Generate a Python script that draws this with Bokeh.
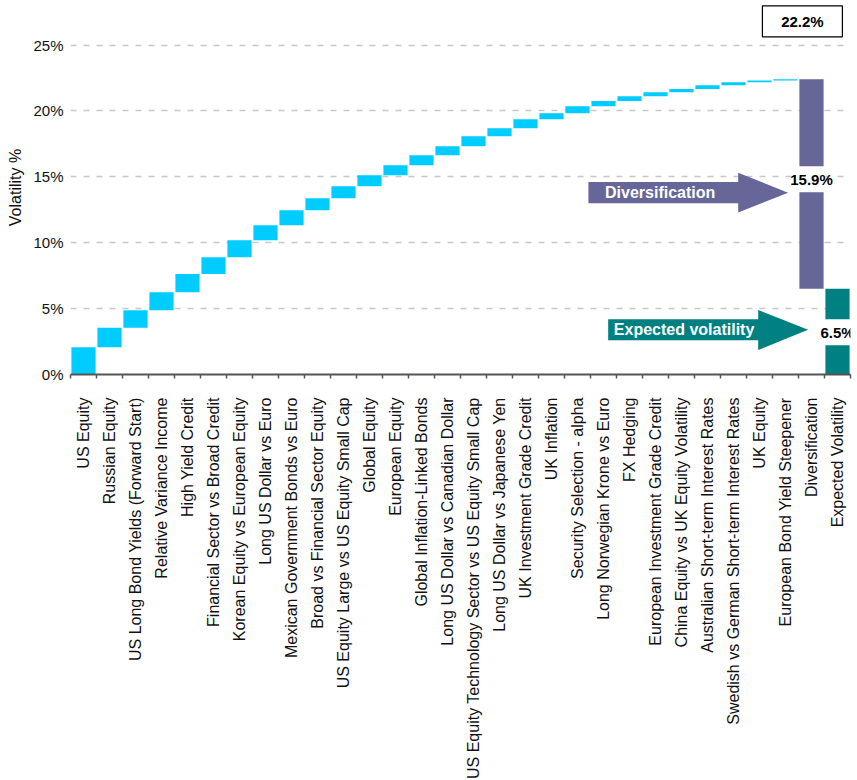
from bokeh.plotting import figure
from bokeh.models import (Range1d, FixedTicker, CustomJSTickFormatter, PrintfTickFormatter,
                          Label, ColumnDataSource)
from bokeh.embed import file_html
from bokeh.resources import INLINE

categories = [
    "US Equity", "Russian Equity", "US Long Bond Yields (Forward Start)",
    "Relative Variance Income", "High Yield Credit", "Financial Sector vs Broad Credit",
    "Korean Equity vs European Equity", "Long US Dollar vs Euro",
    "Mexican Government Bonds vs Euro", "Broad vs Financial Sector Equity",
    "US Equity Large vs US Equity Small Cap", "Global Equity", "European Equity",
    "Global Inflation-Linked Bonds", "Long US Dollar vs Canadian Dollar",
    "US Equity Technology Sector vs US Equity Small Cap", "Long US Dollar vs Japanese Yen",
    "UK Investment Grade Credit", "UK Inflation", "Security Selection - alpha",
    "Long Norwegian Krone vs Euro", "FX Hedging", "European Investment Grade Credit",
    "China Equity vs UK Equity Volatility", "Australian Short-term Interest Rates",
    "Swedish vs German Short-term Interest Rates", "UK Equity",
    "European Bond Yield Steepener", "Diversification", "Expected Volatility",
]
contributions = [2.07, 1.47, 1.34, 1.36, 1.39, 1.27, 1.29, 1.14, 1.14, 0.91,
                 0.91, 0.83, 0.76, 0.76, 0.68, 0.76, 0.61, 0.68, 0.46, 0.53,
                 0.40, 0.36, 0.30, 0.25, 0.28, 0.23, 0.13, 0.09]
diversification = 15.9
expected_volatility = 6.5
total_label = 22.2
y_ticks = [0, 5, 10, 15, 20, 25]

FONT = "Liberation Sans"
CYAN = "#00CCFF"
PURPLE = "#666699"
TEAL = "#008080"

# waterfall geometry
bottoms, tops = [], []
run = 0.0
for v in contributions:
    bottoms.append(run)
    run += v
    tops.append(run)
total = run
bottoms += [expected_volatility, 0.0]
tops += [total, expected_volatility]
colors = [CYAN] * len(contributions) + [PURPLE, TEAL]
xs = [i + 0.5 for i in range(len(categories))]

src = ColumnDataSource(dict(x=xs, bottom=bottoms, top=tops, color=colors))

p = figure(frame_width=780, frame_height=374,
           x_range=Range1d(0, len(categories)), y_range=Range1d(0, 28.38),
           output_backend="svg", toolbar_location=None,
           min_border_left=70, min_border_right=7, min_border_top=0, min_border_bottom=0)
p.outline_line_color = None
p.background_fill_color = "white"

p.vbar(x="x", bottom="bottom", top="top", width=0.93, color="color",
       line_color=None, source=src)

# grid
p.xgrid.visible = False
p.ygrid.ticker = FixedTicker(ticks=y_ticks)
p.ygrid.grid_line_color = "#c8c8c8"
p.ygrid.grid_line_dash = "6 7"
p.ygrid.grid_line_width = 1.5

# y axis
p.yaxis.ticker = FixedTicker(ticks=y_ticks)
p.yaxis.formatter = PrintfTickFormatter(format="%d%%")
p.yaxis.axis_line_color = None
p.yaxis.major_tick_line_color = None
p.yaxis.minor_tick_line_color = None
p.yaxis.major_tick_out = 0
p.yaxis.major_label_standoff = 7
p.yaxis.major_label_text_font = FONT
p.yaxis.major_label_text_font_size = "15px"
p.yaxis.major_label_text_color = "#111111"
p.yaxis.axis_label = "Volatility %"
p.yaxis.axis_label_text_font = FONT
p.yaxis.axis_label_text_font_size = "16px"
p.yaxis.axis_label_text_font_style = "normal"
p.yaxis.axis_label_text_color = "#111111"
p.yaxis.axis_label_standoff = 6

# x axis
p.xaxis.ticker = FixedTicker(ticks=xs, minor_ticks=list(range(len(categories) + 1)))
p.xaxis.formatter = CustomJSTickFormatter(args=dict(labels=categories),
                                          code="return labels[Math.floor(tick)];")
p.xaxis.major_label_orientation = 1.5707963267948966
p.xaxis.major_tick_line_color = None
p.xaxis.major_tick_out = 0
p.xaxis.major_tick_in = 0
p.xaxis.minor_tick_out = 4
p.xaxis.minor_tick_in = 0
p.xaxis.minor_tick_line_color = "#555555"
p.xaxis.minor_tick_line_width = 1.5
p.xaxis.axis_line_color = "#555555"
p.xaxis.axis_line_width = 2
p.xaxis.major_label_standoff = 19
p.xaxis.major_label_text_font = FONT
p.xaxis.major_label_text_font_size = "16px"
p.xaxis.major_label_text_color = "#111111"

# arrows
def arrow(x0, xn, xt, yb0, yb1, yh0, yh1, ytip):
    return ([x0, xn, xn, xt, xn, xn, x0], [yb0, yb0, yh0, ytip, yh1, yb1, yb1])

ax, ay = arrow(19.92, 25.68, 27.6, 13.0, 14.6, 12.3, 15.3, 13.8)
p.patch(ax, ay, fill_color=PURPLE, line_color=None)
bx, by = arrow(20.68, 26.45, 28.37, 2.6, 4.2, 1.85, 4.9, 3.4)
p.patch(bx, by, fill_color=TEAL, line_color=None)

p.add_layout(Label(x=22.68, y=13.8, text="Diversification", text_color="white",
                   text_font=FONT, text_font_style="bold", text_font_size="16px",
                   text_align="center", text_baseline="middle"))
p.add_layout(Label(x=23.6, y=3.4, text="Expected volatility", text_color="white",
                   text_font=FONT, text_font_style="bold", text_font_size="16px",
                   text_align="center", text_baseline="middle"))

# value labels with white backing boxes
n = len(contributions)
div_y = 14.82
exp_y = expected_volatility / 2 - 0.05
p.rect(x=[n + 0.5, n + 1.5], y=[div_y, exp_y], width=28, height=26,
       width_units="screen", height_units="screen", fill_color="white", line_color=None)
p.add_layout(Label(x=n + 0.5, y=div_y, text=f"{diversification}%", text_color="black",
                   text_font=FONT, text_font_style="bold", text_font_size="15px",
                   text_align="center", text_baseline="middle"))
p.add_layout(Label(x=n + 1.5, y=exp_y, text=f"{expected_volatility}%", text_color="black",
                   text_font=FONT, text_font_style="bold", text_font_size="15px",
                   text_align="center", text_baseline="middle"))

# total box
p.rect(x=[28.15], y=[26.8], width=80, height=31, width_units="screen",
       height_units="screen", fill_color="white", line_color="black", line_width=1.2)
p.add_layout(Label(x=28.15, y=26.8, text=f"{total_label}%", text_color="black",
                   text_font=FONT, text_font_style="bold", text_font_size="15px",
                   text_align="center", text_baseline="middle"))

open("out.html", "w").write(file_html(p, INLINE))
